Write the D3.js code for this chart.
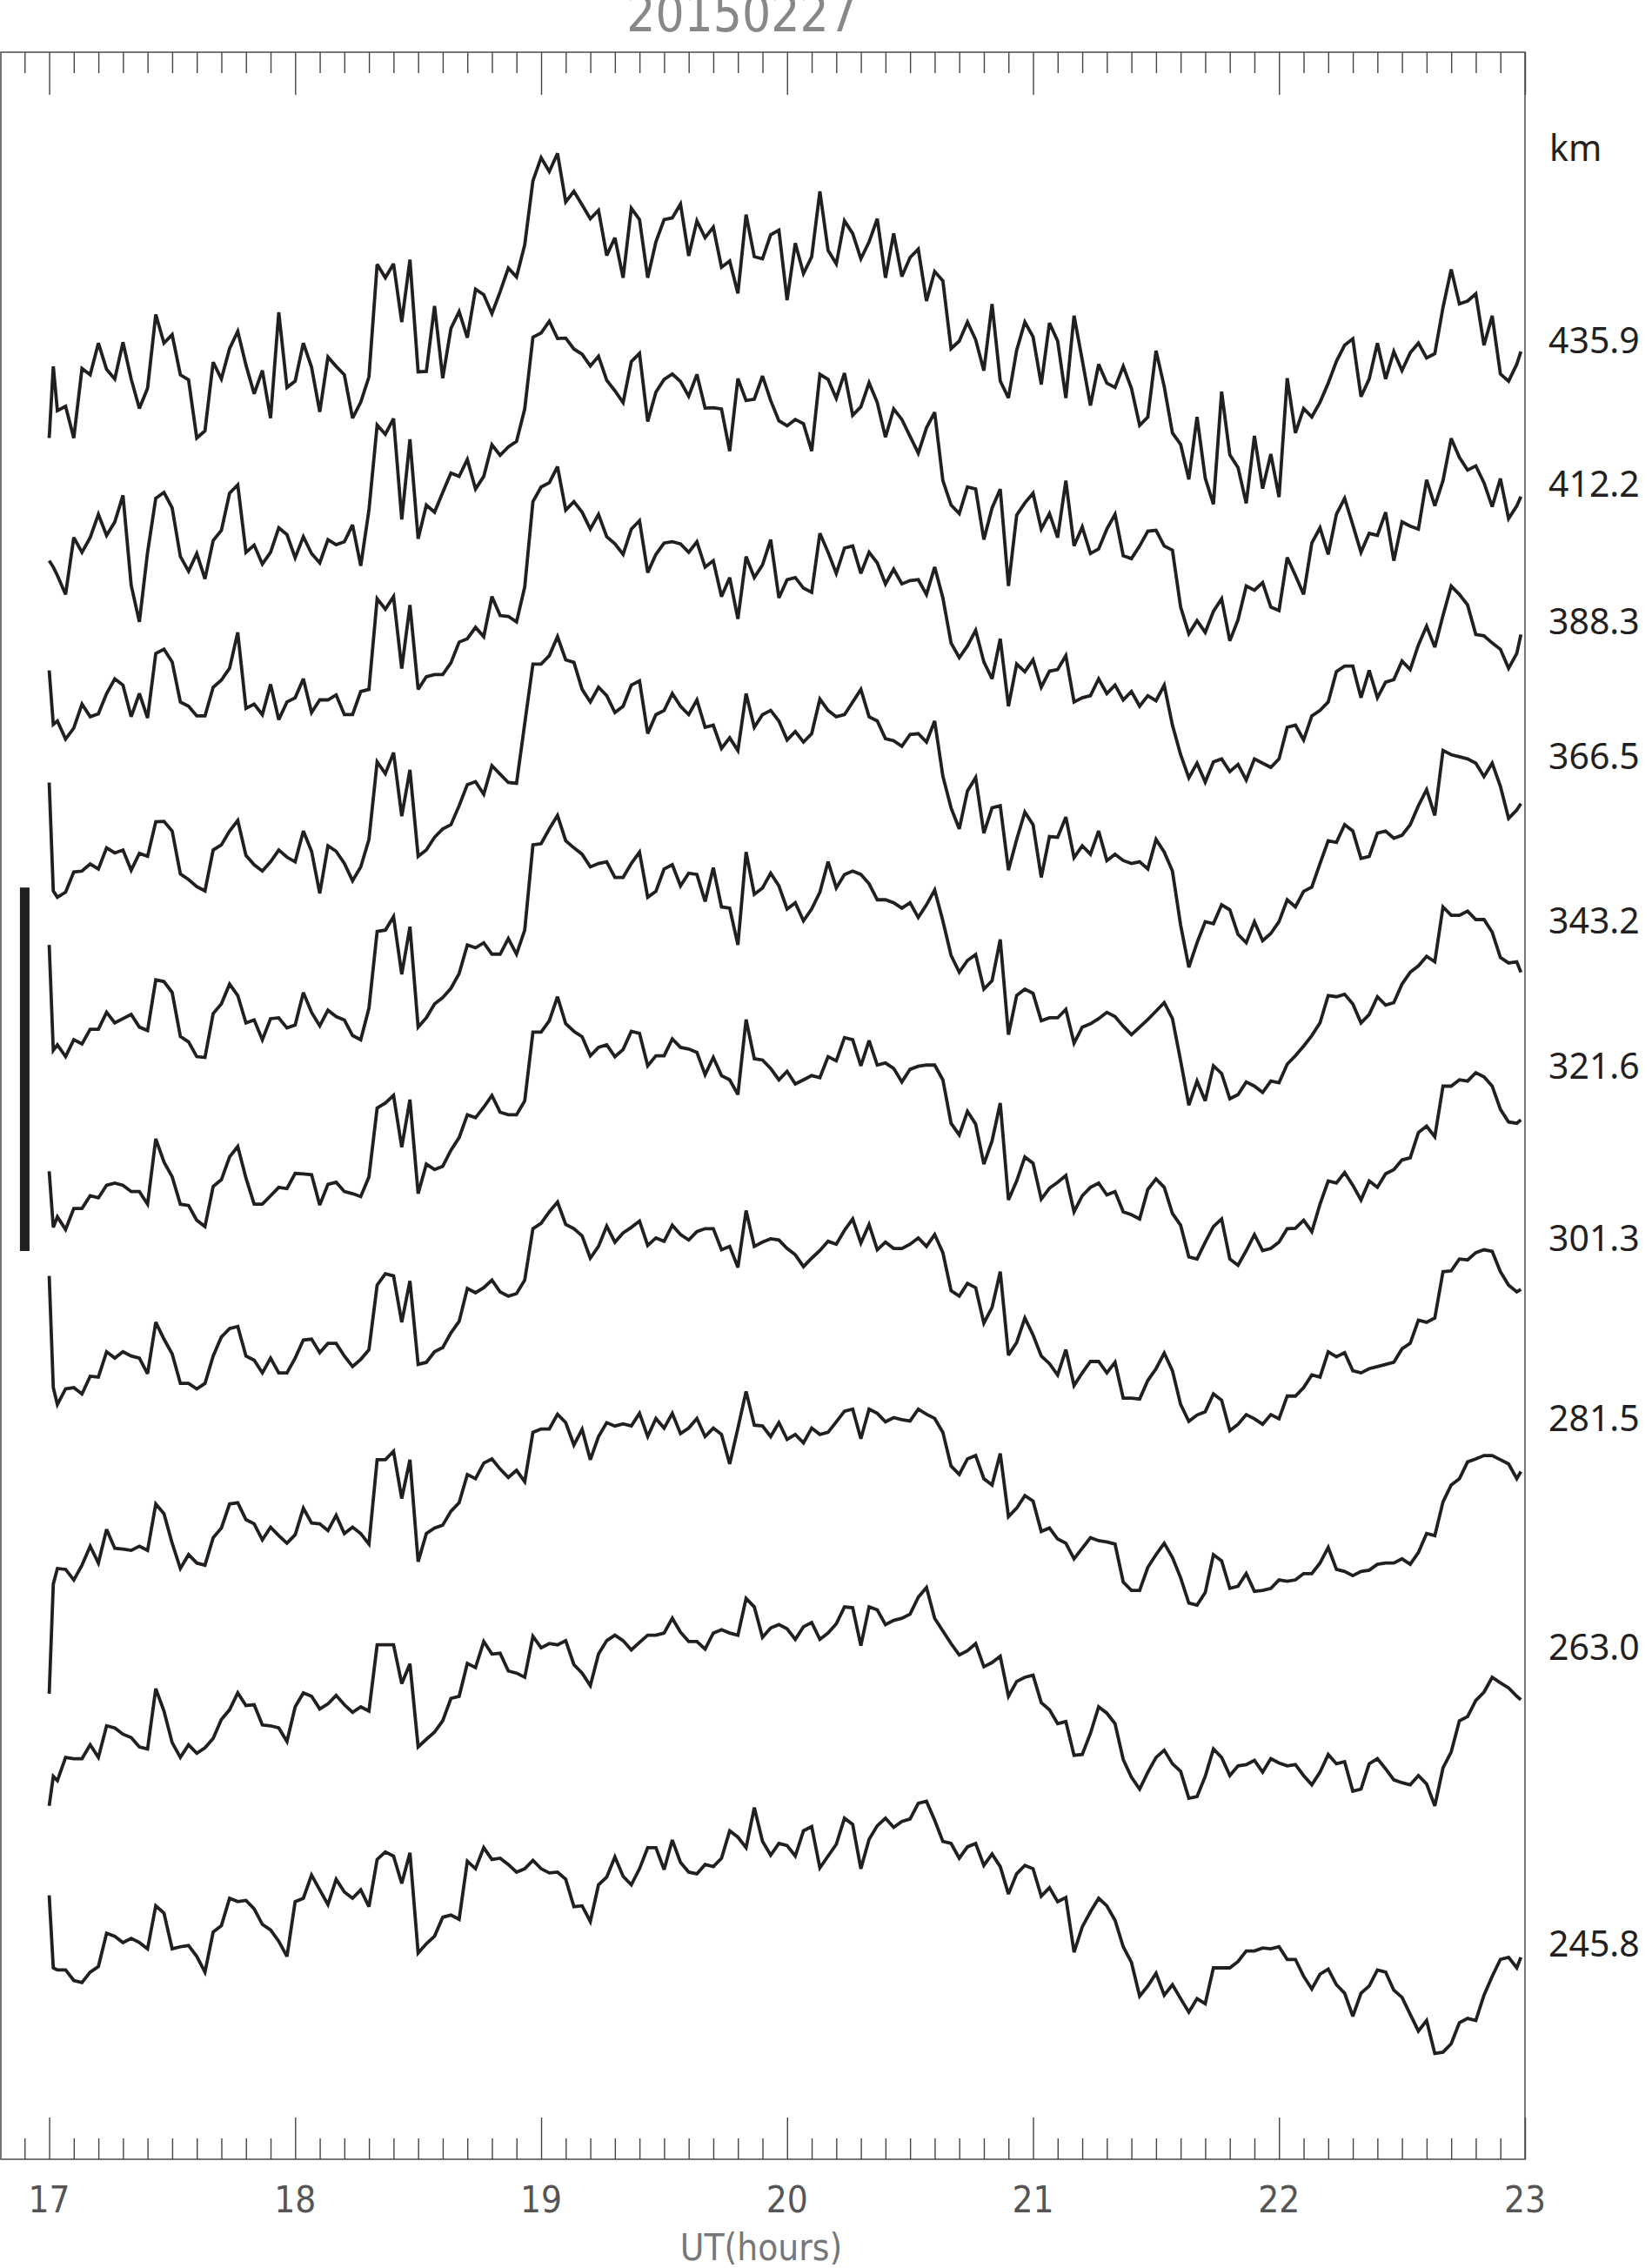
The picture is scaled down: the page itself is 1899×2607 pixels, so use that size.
<!DOCTYPE html>
<html>
<head>
<meta charset="utf-8">
<style>
  body { margin: 0; background: #fff; }
  svg { display: block; }
</style>
</head>
<body>
<svg width="1899" height="2607"></svg>
<script src="https://cdn.jsdelivr.net/npm/d3@7/dist/d3.min.js"></script>
<script>

// heights of the ten traces (km), top to bottom
var heights = ["435.9", "412.2", "388.3", "366.5", "343.2", "321.6", "301.3", "281.5", "263.0", "245.8"];

// stacking level of each trace (relative units)
var levels = [4314, 3973, 3647, 3328, 2938, 2593, 2185, 1758, 1215, 512];

// sample times, minutes after 17 UT
var minutes = [0, 1].concat(d3.range(2, 359, 2), [359]);

// perturbation of each trace (relative units), one value per sample time
var h435 = [
  -230, -60, -165, -155, -230, -65, -80, -5, -67, -90,
  -3, -90, -160, -112, 63, -5, 15, -80, -92, -230,
  -213, -50, -90, -18, 23, -57, -125, -70, -183, 68,
  -110, -95, -5, -62, -168, -38, -60, -80, -183, -145,
  -85, 182, 150, 183, 45, 193, -73, -72, 83, -88,
  30, 70, 8, 123, 110, 65, 117, 173, 152, 228,
  380, 435, 402, 445, 330, 355, 323, 290, 310, 203,
  245, 150, 315, 288, 150, 235, 288, 292, 325, 202,
  285, 245, 270, 175, 190, 113, 300, 200, 195, 252,
  263, 97, 232, 160, 200, 355, 215, 183, 285, 255,
  195, 235, 290, 150, 255, 153, 198, 218, 95, 165,
  143, -18, 0, 45, 3, -70, 88, -95, -135, -22,
  45, 10, -103, 43, 0, -135, 60, -45, -153, -55,
  -100, -110, -60, -112, -200, -180, -23, -108, -218, -245,
  -328, -180, -325, -387, -120, -270, -300, -385, -225, -350,
  -268, -370, -88, -218, -160, -180, -145, -100, -48, -10,
  5, -132, -90, -5, -90, -25, -70, -28, -5, -40,
  -30, 80, 170, 88, 95, 112, -10, 60, -78, -95,
  -55, -25
];

var h412 = [
  -180, -195, -215, -260, -125, -160, -125, -70, -120, -88,
  -25, -238, -325, -160, -32, -18, -55, -170, -205, -163,
  -223, -132, -108, -20, 0, -160, -143, -188, -160, -102,
  -118, -173, -123, -163, -185, -130, -142, -135, -95, -192,
  -60, 142, 120, 157, -82, 108, -128, -48, -65, -18,
  28, 20, 60, -10, 20, 95, 70, 90, 103, 180,
  350, 360, 388, 347, 348, 322, 310, 282, 305, 248,
  223, 195, 292, 312, 150, 220, 250, 263, 245, 210,
  262, 182, 183, 180, 80, 252, 200, 203, 258, 200,
  152, 140, 155, 145, 80, 262, 250, 205, 265, 165,
  185, 242, 195, 113, 180, 155, 115, 75, 135, 172,
  10, -48, -68, -5, -10, -130, -55, -10, -240, -72,
  -43, -20, -105, -68, -125, 10, -145, -100, -163, -152,
  -105, -70, -168, -175, -145, -110, -108, -145, -155, -290,
  -353, -322, -350, -300, -270, -370, -320, -240, -250, -232,
  -290, -298, -172, -215, -260, -138, -102, -165, -70, -32,
  -95, -160, -115, -120, -65, -180, -88, -98, -105, 12,
  -50, 10, 110, 65, 35, 45, 5, -52, 15, -80,
  -50, -28
];

var h388 = [
  -114, -242, -234, -277, -251, -194, -224, -217, -169, -134,
  -149, -224, -169, -227, -74, -64, -94, -189, -199, -222,
  -222, -154, -137, -109, -24, -204, -194, -219, -147, -231,
  -189, -179, -134, -214, -184, -184, -172, -219, -219, -164,
  -159, 56, 31, 61, -110, 41, -159, -129, -124, -124,
  -96, -47, -39, -12, -34, 61, 16, 14, 1, 84,
  286, 321, 331, 369, 266, 286, 261, 221, 256, 203,
  186, 161, 221, 241, 118, 161, 188, 191, 186, 166,
  191, 131, 146, 61, 106, 8, 156, 106, 136, 196,
  58, 101, 106, 81, 71, 211, 166, 116, 176, 181,
  116, 166, 141, 91, 126, 91, 99, 101, 66, 131,
  58, -49, -84, -56, -19, -94, -134, -39, -199, -99,
  -117, -89, -154, -116, -112, -79, -189, -179, -174, -134,
  -169, -149, -184, -164, -199, -174, -186, -149, -244, -314,
  -369, -334, -379, -331, -324, -354, -337, -374, -324, -334,
  -344, -324, -249, -244, -279, -222, -209, -189, -117, -104,
  -104, -179, -114, -179, -142, -136, -92, -112, -54, -9,
  -59, 16, 86, 66, 41, -29, -32, -49, -64, -109,
  -74, -29
];

var h366 = [
  -61, -318, -333, -321, -273, -271, -254, -266, -216, -228,
  -221, -269, -229, -236, -154, -153, -176, -278, -291, -308,
  -318, -221, -209, -176, -151, -234, -256, -271, -249, -221,
  -238, -249, -176, -224, -324, -211, -224, -253, -294, -261,
  -196, -12, -40, 10, -141, -31, -236, -221, -191, -171,
  -161, -116, -66, -59, -89, -21, -41, -61, -63, 79,
  220, 220, 240, 285, 230, 224, 160, 130, 165, 145,
  105, 120, 170, 180, 55, 100, 110, 150, 120, 100,
  135, 70, 75, 20, 45, 15, 150, 70, 100, 110,
  85, 40, 60, 35, 55, 137, 110, 95, 100, 130,
  160, 95, 85, 43, 38, 25, 53, 55, 35, 85,
  -46, -121, -171, -81, -49, -181, -121, -116, -269, -196,
  -131, -161, -286, -189, -191, -143, -239, -211, -231, -176,
  -246, -231, -246, -253, -249, -266, -196, -226, -271, -399,
  -499, -441, -391, -396, -351, -363, -421, -441, -391, -436,
  -419, -391, -339, -356, -319, -309, -253, -199, -203, -161,
  -176, -241, -236, -181, -176, -193, -186, -161, -116, -78,
  -139, 15, 5, 0, -5, -15, -47, -15, -70, -146,
  -126, -111
];

var h343 = [
  -56, -306, -293, -321, -281, -291, -256, -256, -216, -241,
  -231, -221, -251, -259, -139, -143, -169, -273, -286, -321,
  -323, -219, -196, -149, -176, -241, -234, -281, -231, -229,
  -253, -246, -169, -216, -248, -211, -226, -234, -271, -281,
  -206, -24, -21, 11, -126, -13, -251, -229, -196, -181,
  -159, -124, -56, -63, -51, -78, -78, -41, -78, -21,
  181, 184, 219, 251, 191, 174, 159, 129, 137, 141,
  104, 104, 137, 164, 57, 71, 124, 134, 84, 114,
  111, 47, 127, 34, 31, -56, 164, 64, 79, 114,
  84, 29, 44, 1, 29, 69, 141, 79, 111, 119,
  111, 89, 51, 51, 44, 31, 44, 9, 39, 74,
  1, -81, -121, -93, -79, -161, -141, -43, -269, -176,
  -161, -171, -236, -229, -229, -209, -289, -251, -243, -231,
  -216, -226, -249, -269, -251, -233, -213, -193, -231, -331,
  -436, -379, -426, -343, -361, -421, -411, -381, -391, -406,
  -379, -383, -339, -319, -296, -271, -241, -176, -179, -173,
  -196, -241, -221, -179, -199, -193, -149, -121, -106, -83,
  -96, 34, 14, 14, 24, 4, 4, -26, -86, -99,
  -96, -121
];

var h321 = [
  -248, -381, -356, -386, -336, -336, -306, -311, -281, -276,
  -281, -296, -296, -326, -171, -226, -261, -326, -329, -364,
  -379, -284, -268, -214, -189, -264, -326, -326, -306, -286,
  -289, -253, -254, -256, -328, -279, -274, -296, -301, -308,
  -261, -98, -86, -68, -191, -78, -301, -231, -244, -236,
  -198, -168, -114, -121, -96, -68, -108, -114, -114, -81,
  82, 82, 109, 166, 102, 84, 71, 26, 46, 52,
  24, 41, 84, 79, 2, 26, 26, 66, 46, 42,
  34, -19, 22, -21, -31, -66, 112, 19, 16, -4,
  -31, -11, -41, -31, -21, -26, 24, 14, 69, 64,
  2, 62, 4, 9, -4, -36, -6, 1, 4, 4,
  -31, -134, -162, -106, -136, -231, -176, -86, -316, -271,
  -214, -229, -314, -288, -274, -258, -344, -306, -286, -276,
  -304, -296, -344, -351, -361, -291, -266, -286, -348, -376,
  -451, -456, -416, -379, -361, -456, -471, -436, -398, -436,
  -431, -416, -384, -383, -364, -391, -326, -271, -276, -251,
  -281, -316, -271, -286, -254, -244, -221, -216, -156, -141,
  -166, -46, -46, -31, -34, -14, -24, -46, -101, -131,
  -134, -126
];

var h301 = [
  -88, -353, -393, -356, -353, -368, -326, -328, -268, -283,
  -268, -278, -283, -320, -198, -238, -273, -343, -343, -356,
  -343, -278, -233, -213, -208, -278, -288, -318, -283, -318,
  -318, -283, -240, -238, -270, -248, -248, -278, -303, -286,
  -263, -110, -83, -88, -198, -100, -298, -293, -268, -258,
  -223, -196, -118, -128, -116, -98, -126, -136, -130, -98,
  24, 37, 64, 87, 34, 24, 7, -46, -18, 30,
  -8, 14, 27, 42, -16, 2, -6, 32, 10, -3,
  17, 24, 24, -26, -18, -68, 67, -18, -8, 0,
  -3, -23, -38, -66, -46, -28, -6, -13, 20, 47,
  -10, 34, -26, -8, -23, -23, -13, 2, -18, 10,
  -33, -123, -136, -106, -116, -200, -163, -78, -276, -246,
  -188, -228, -278, -296, -323, -263, -348, -318, -291, -291,
  -318, -293, -378, -378, -380, -336, -308, -271, -313, -393,
  -433, -418, -410, -368, -383, -455, -440, -417, -427, -440,
  -417, -427, -373, -373, -353, -323, -328, -268, -280, -270,
  -313, -318, -308, -303, -298, -293, -261, -248, -193, -198,
  -188, -78, -76, -48, -50, -33, -26, -30, -78, -110,
  -126, -120
];

var h281 = [
  -652, -392, -355, -357, -382, -347, -302, -342, -262, -307,
  -309, -312, -302, -312, -202, -225, -295, -355, -322, -342,
  -347, -282, -259, -202, -199, -239, -249, -287, -257, -277,
  -295, -275, -212, -247, -249, -265, -229, -272, -257, -272,
  -297, -97, -97, -77, -189, -97, -339, -272, -259, -252,
  -219, -199, -132, -142, -105, -95, -119, -139, -122, -149,
  -32, -24, -24, 11, -9, -62, -25, -97, -42, -9,
  -17, -12, -17, 13, -42, 1, -22, 13, -35, -22,
  1, -42, -22, -37, -107, -22, 65, -15, -17, -42,
  -9, -49, -37, -57, -22, -37, -32, -7, 18, 23,
  -47, 23, 13, -7, 3, -2, -5, 23, 11, 1,
  -32, -112, -132, -95, -87, -142, -157, -82, -232, -212,
  -182, -195, -267, -259, -285, -295, -332, -307, -282, -289,
  -292, -297, -387, -407, -407, -352, -322, -295, -329, -377,
  -437, -442, -412, -322, -337, -402, -397, -367, -409, -407,
  -402, -382, -385, -382, -367, -367, -342, -305, -357, -362,
  -372, -362, -359, -345, -342, -342, -332, -345, -317, -272,
  -277, -197, -157, -142, -102, -95, -87, -87, -97, -107,
  -142, -125
];

var h263 = [
  -375, -305, -315, -260, -263, -263, -230, -260, -185, -190,
  -205, -213, -235, -240, -97, -150, -225, -260, -230, -250,
  -237, -215, -170, -147, -107, -137, -135, -183, -185, -190,
  -222, -140, -107, -115, -145, -133, -113, -135, -153, -140,
  -150, 7, 7, 7, -85, -38, -235, -217, -200, -173,
  -120, -115, -37, -47, 15, -15, -13, -55, -60, -70,
  27, 0, 10, 7, 17, -40, -60, -90, -15, 17,
  30, 17, -5, 13, 30, 30, 35, 70, 37, 15,
  15, -3, 35, 43, 35, 30, 117, 97, 25, 47,
  55, 45, 20, 50, 60, 20, 35, 57, 97, 95,
  5, 97, 90, 55, 65, 70, 80, 120, 143, 70,
  40, 10, -17, -7, 10, -45, -35, -20, -115, -80,
  -70, -65, -130, -147, -180, -175, -255, -253, -203, -140,
  -155, -180, -265, -307, -335, -295, -260, -243, -275, -293,
  -357, -353, -305, -240, -260, -303, -280, -277, -267, -295,
  -263, -273, -280, -277, -303, -325, -295, -253, -275, -270,
  -340, -335, -275, -263, -287, -313, -320, -325, -303, -323,
  -375, -285, -247, -173, -163, -125, -105, -70, -83, -95,
  -115, -123
];

var h245 = [
  116, -56, -61, -61, -86, -91, -66, -53, 26, 19,
  4, 14, 4, -11, 91, 74, -11, -6, -3, -29,
  -66, 29, 44, 109, 101, 104, 84, 47, 34, 7,
  -29, 101, 109, 164, 129, 94, 154, 124, 109, 129,
  89, 201, 219, 209, 144, 217, -21, 1, 19, 64,
  69, 59, 197, 179, 229, 201, 204, 189, 171, 179,
  199, 179, 169, 171, 154, 89, 91, 54, 141, 159,
  207, 161, 141, 179, 229, 229, 177, 247, 194, 171,
  167, 189, 184, 204, 269, 254, 229, 324, 244, 211,
  239, 234, 209, 269, 279, 181, 209, 237, 299, 284,
  179, 249, 281, 299, 277, 291, 297, 334, 339, 294,
  244, 239, 204, 231, 239, 187, 214, 184, 119, 167,
  187, 179, 114, 134, 101, 111, -19, 41, 77, 109,
  91, 57, -6, -43, -123, -99, -69, -121, -96, -129,
  -161, -129, -141, -56, -56, -56, -41, -16, -16, -9,
  -11, -6, -36, -36, -76, -106, -71, -59, -96, -116,
  -171, -116, -99, -61, -66, -109, -126, -166, -206, -181,
  -259, -256, -236, -186, -176, -181, -121, -76, -36, -31,
  -56, -31
];

var traces = [h435, h412, h388, h366, h343, h321, h301, h281, h263, h245];

// hour ticks
var majorTicks = d3.range(17, 24);
var minorTicks = d3.range(169, 230).map(function(d) { return d / 10; })
    .filter(function(d) { return Math.abs(d - Math.round(d)) > 1e-6; });

// scale bar on the left, in the same relative units
var barLevels = [2156, 3018];

var svg = d3.select("svg");

var frameL = 1, frameR = 1753, frameT = 60, frameB = 2482;

var x = d3.scaleLinear()
    .domain([16.8, 23])
    .range([frameL - 1, frameR]);

var y = d3.scaleLinear()
    .domain([0, 4999])
    .range([2483, 60]);

var ink = "#231f20";

// frame
svg.append("rect")
    .attr("x", frameL)
    .attr("y", frameT)
    .attr("width", frameR - frameL)
    .attr("height", frameB - frameT)
    .attr("fill", "none")
    .attr("stroke", "#555")
    .attr("stroke-width", 1.6);

function tickAxis(gen, values, size, ty) {
  var g = svg.append("g")
      .attr("transform", "translate(0," + ty + ")")
      .call(gen(x).tickValues(values).tickSize(size).tickFormat(""));
  g.select(".domain").remove();
  g.selectAll(".tick line").attr("stroke", "#444").attr("stroke-width", 1.4);
}

tickAxis(d3.axisBottom, minorTicks, 24, frameT);
tickAxis(d3.axisBottom, majorTicks, 49, frameT);
tickAxis(d3.axisTop, minorTicks, 24, frameB);
tickAxis(d3.axisTop, majorTicks, 48, frameB);

var thinFont = "'Liberation Sans Narrow', 'DejaVu Sans Condensed', sans-serif";

svg.append("g")
  .selectAll("text")
  .data(majorTicks)
  .enter().append("text")
    .attr("x", function(d) { return x(d); })
    .attr("y", 2543)
    .attr("text-anchor", "middle")
    .attr("font-family", thinFont)
    .attr("font-size", 42)
    .attr("fill", "#555")
    .text(function(d) { return d; });

svg.append("text")
    .attr("x", 875)
    .attr("y", 2598)
    .attr("text-anchor", "middle")
    .attr("font-family", thinFont)
    .attr("font-size", 42)
    .attr("fill", "#777")
    .text("UT(hours)");

svg.append("text")
    .attr("x", 853)
    .attr("y", 36)
    .attr("text-anchor", "middle")
    .attr("font-family", thinFont)
    .attr("font-size", 58)
    .attr("fill", "#888")
    .text("20150227");

// traces
var line = d3.line()
    .x(function(d, i) { return x(17 + minutes[i] / 60); })
    .y(function(d) { return y(d); });

traces.forEach(function(values, k) {
  if (values.length !== minutes.length) console.error("trace " + heights[k] + " has " + values.length + " values");
  svg.append("path")
      .datum(values.map(function(v) { return levels[k] + v; }))
      .attr("d", line)
      .attr("fill", "none")
      .attr("stroke", ink)
      .attr("stroke-width", 3.8)
      .attr("stroke-linejoin", "miter")
      .attr("stroke-miterlimit", 3);
});

// height labels on the right
svg.append("g")
  .selectAll("text")
  .data(heights)
  .enter().append("text")
    .attr("x", frameR + 27)
    .attr("y", function(d, k) { return y(levels[k]) + 14; })
    .attr("font-family", "'Noto Sans', 'DejaVu Sans', sans-serif")
    .attr("font-size", 41)
    .attr("fill", ink)
    .text(function(d) { return d; });

svg.append("text")
    .attr("x", frameR + 28)
    .attr("y", 185)
    .attr("font-family", "'Noto Sans', 'DejaVu Sans', sans-serif")
    .attr("font-size", 41)
    .attr("fill", ink)
    .text("km");

// scale bar
svg.append("rect")
    .attr("x", x(16.881))
    .attr("y", y(barLevels[1]))
    .attr("width", x(16.92) - x(16.881))
    .attr("height", y(barLevels[0]) - y(barLevels[1]))
    .attr("fill", ink);

</script>
</body>
</html>
